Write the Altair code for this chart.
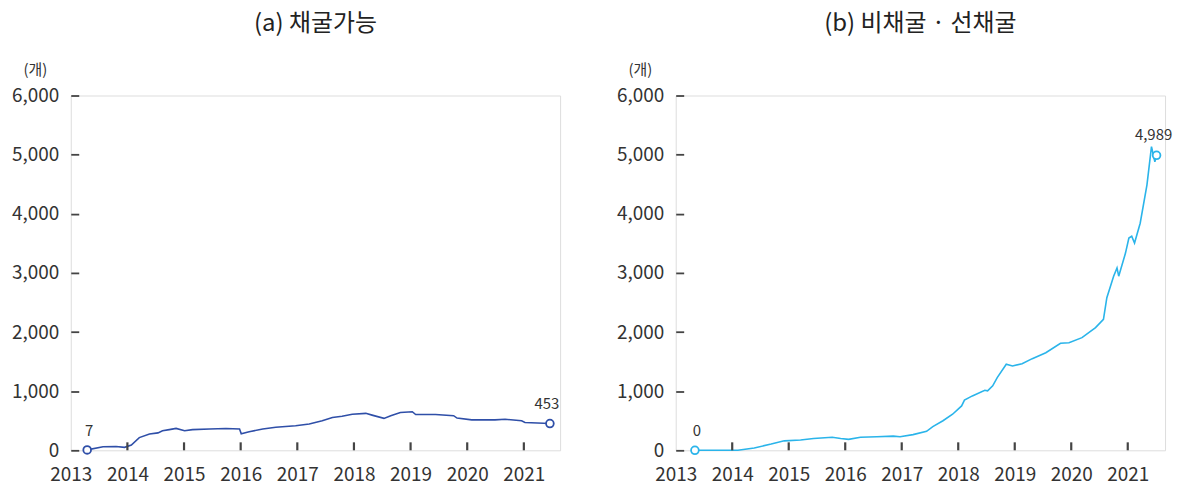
import altair as alt
import pandas as pd

FONT = "Noto Sans CJK KR"

# (a) 채굴가능
years_a = [2013.29, 2013.57, 2013.80, 2013.95, 2014.07, 2014.21, 2014.39, 2014.54, 2014.62,
           2014.74, 2014.86, 2015.01, 2015.15, 2015.45, 2015.74, 2015.98, 2016.01, 2016.15,
           2016.39, 2016.62, 2016.97, 2017.21, 2017.44, 2017.62, 2017.79, 2017.97, 2018.21,
           2018.32, 2018.53, 2018.65, 2018.82, 2019.03, 2019.09, 2019.44, 2019.76, 2019.82,
           2020.08, 2020.49, 2020.67, 2020.96, 2021.02, 2021.46]
vals_a = [7, 60, 65, 50, 90, 215, 275, 295, 330,
          350, 370, 330, 350, 360, 370, 360, 280, 315,
          360, 390, 415, 445, 500, 555, 575, 610, 625,
          595, 540, 585, 640, 652, 605, 605, 585, 545,
          515, 515, 525, 500, 470, 453]

# (b) 비채굴 · 선채굴
years_b = [2013.34, 2014.10, 2014.39, 2014.69, 2014.92, 2015.21, 2015.44, 2015.77, 2015.92,
           2016.06, 2016.27, 2016.56, 2016.85, 2016.97, 2017.20, 2017.44, 2017.55, 2017.73,
           2017.90, 2018.06, 2018.11, 2018.25, 2018.47, 2018.52, 2018.61, 2018.69, 2018.85,
           2018.96, 2019.13, 2019.31, 2019.55, 2019.81, 2019.96, 2020.19, 2020.43, 2020.57,
           2020.63, 2020.75, 2020.81, 2020.84, 2020.96, 2021.02, 2021.07, 2021.12, 2021.22,
           2021.34, 2021.42, 2021.48, 2021.51]
vals_b = [0, 0, 40, 105, 160, 175, 200, 220, 200,
          185, 220, 230, 240, 230, 265, 320, 400, 500,
          610, 750, 850, 920, 1015, 1005, 1090, 1230, 1455,
          1425, 1465, 1550, 1650, 1810, 1820, 1905, 2075, 2215,
          2580, 2945, 3085, 2945, 3335, 3590, 3620, 3505, 3840,
          4490, 5135, 4880, 4989]

titles = ["(a) 채굴가능", "(b) 비채굴 · 선채굴"]
colors = ["#2f4fa8", "#2ab4ea"]
x_ticks = [2013, 2014, 2015, 2016, 2017, 2018, 2019, 2020, 2021]
x_inner_ticks = [2014, 2015, 2016, 2017, 2018, 2019, 2020, 2021]
y_ticks = [0, 1000, 2000, 3000, 4000, 5000, 6000]
x_min = 2013
x_max = [2021.64, 2021.66]

W, H = 491, 356


def panel(years, vals, color, title, xmax):
    df = pd.DataFrame({"year": years, "value": vals})
    xs = alt.Scale(domain=[x_min, xmax], nice=False, zero=False)
    ys = alt.Scale(domain=[0, 6000], nice=False)
    x_axis = alt.Axis(values=x_ticks, format="d", ticks=False, domain=False, grid=False,
                      labelFlush=False, labelFontSize=19, labelPadding=15, labelColor="#333",
                      labelFont=FONT, title=None)
    # inward y ticks drawn as the first 8 px of a dashed grid line
    y_axis = alt.Axis(values=y_ticks, format=",.0f", ticks=False, domain=False,
                      grid=True, gridColor="#444", gridWidth=1.8, gridDash=[8, 2000],
                      labelFontSize=19, labelPadding=12, labelColor="#333", labelFont=FONT,
                      title="(개)", titleAngle=0, titleX=-36, titleY=-26, titleAlign="center",
                      titleBaseline="middle", titleFontWeight="normal", titleFontSize=15,
                      titleColor="#333", titleFont=FONT)
    line = alt.Chart(df).mark_line(color=color, strokeWidth=1.6).encode(
        x=alt.X("year:Q", scale=xs, axis=x_axis),
        y=alt.Y("value:Q", scale=ys, axis=y_axis),
    )
    ends = pd.DataFrame({"year": [years[0], years[-1]], "value": [vals[0], vals[-1]],
                         "label": [f"{vals[0]:,}", f"{vals[-1]:,}"]})
    pts = alt.Chart(ends).mark_point(shape="circle", filled=True, fill="white", stroke=color,
                                     strokeWidth=1.8, size=60, opacity=1).encode(
        x="year:Q", y="value:Q")
    t_start = alt.Chart(ends.iloc[[0]]).mark_text(font=FONT, fontSize=15, color="#333",
                                                  dy=-19, dx=2).encode(
        x="year:Q", y="value:Q", text="label:N")
    t_end = alt.Chart(ends.iloc[[1]]).mark_text(font=FONT, fontSize=15, color="#333",
                                                dy=-20, dx=-3).encode(
        x="year:Q", y="value:Q", text="label:N")
    xt = alt.Chart(pd.DataFrame({"year": x_inner_ticks})).mark_rule(
        color="#444", strokeWidth=2.2).encode(x="year:Q", y=alt.value(H), y2=alt.value(H - 8))
    return alt.layer(line, xt, pts, t_start, t_end).properties(
        width=W, height=H,
        title=alt.TitleParams(title, fontSize=24, font=FONT, fontWeight="normal",
                              color="#222", anchor="middle", frame="group", offset=27),
    )


chart = alt.hconcat(
    panel(years_a, vals_a, colors[0], titles[0], x_max[0]),
    panel(years_b, vals_b, colors[1], titles[1], x_max[1]),
    spacing=55,
).configure_view(stroke="#8c8c8c", strokeWidth=1.5).configure(
    padding={"left": 11, "top": 10, "right": 5, "bottom": 5}, background="white"
)

chart.save("out.html", embed_options={"renderer": "svg", "actions": False})
